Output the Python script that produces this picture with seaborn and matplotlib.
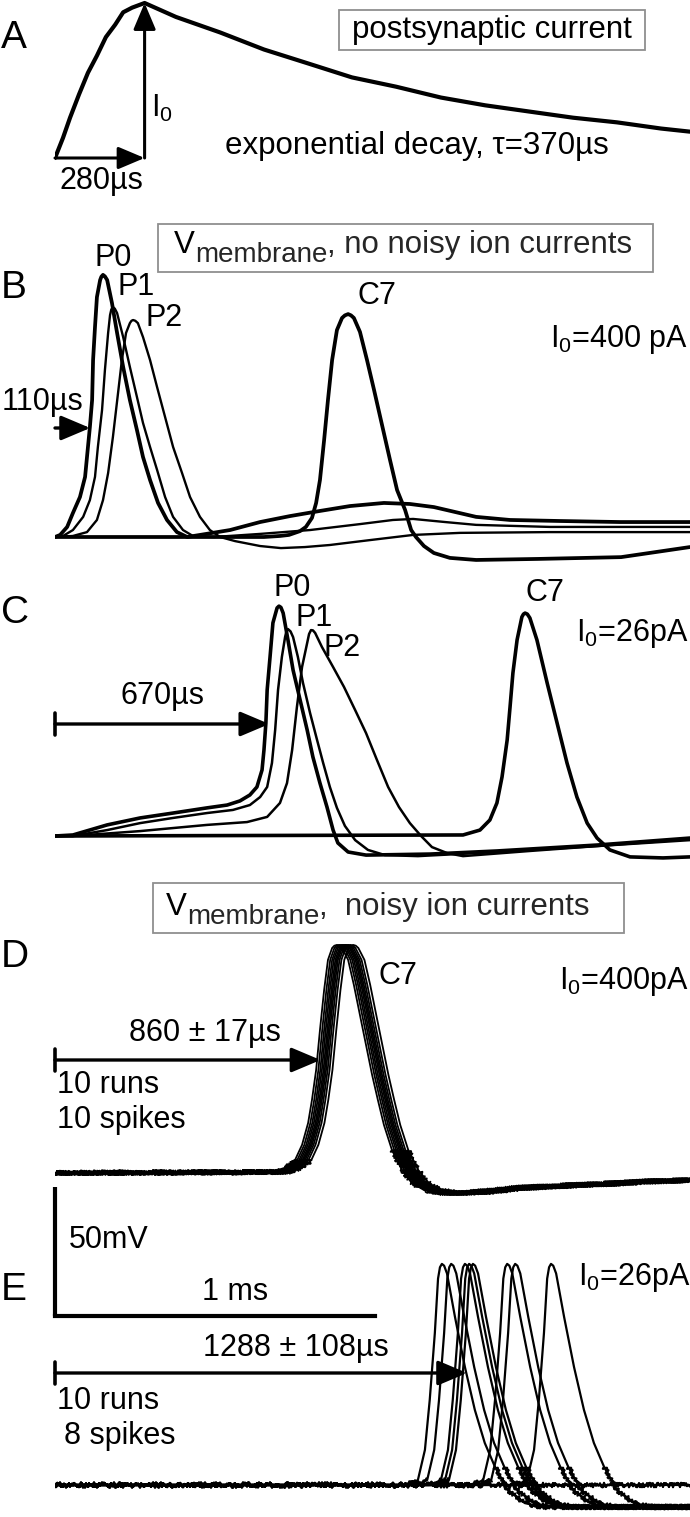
import numpy as np
import pandas as pd
import matplotlib
matplotlib.use("Agg")
import matplotlib.pyplot as plt
from matplotlib.patches import Rectangle
import seaborn as sns

# ------------------------------------------------------------------ data
# Panel A: postsynaptic current, normalised to I0
psc_t_us = [0, 25, 47, 75, 103, 131, 159, 188, 213, 241, 280, 378, 516, 653, 791, 928,
            1066, 1206, 1344, 1481, 1619, 1756, 1894, 1984]
psc_i = [0, 0.13, 0.26, 0.41, 0.55, 0.66, 0.78, 0.86, 0.94, 0.97, 1.0, 0.91, 0.81, 0.70,
         0.61, 0.52, 0.46, 0.39, 0.34, 0.30, 0.26, 0.23, 0.19, 0.17]
psc_rise_us = 280

# Panel B: I0 = 400 pA, no noise (mV relative to rest)
b_p0_t = [0, 16, 38, 56, 78, 94, 103, 109, 116, 119, 125, 131, 141, 145, 150, 156, 163, 178,
          194, 213, 234, 256, 275, 297, 322, 350, 381, 413, 453, 547, 641, 734, 828, 922, 1028,
          1109, 1184, 1250, 1316, 1422, 1578, 1766, 1984]
b_p0_v = [0, 0.8, 3.9, 9.3, 15.5, 23.3, 34.9, 42.6, 53.1, 68.6, 81.4, 93.0, 99.6, 100.9, 101.6,
          101.0, 99.6, 90.7, 79.1, 65.9, 53.1, 41.5, 31.0, 22.1, 13.2, 6.6, 1.9, 0, 0.8, 2.7,
          5.8, 8.1, 10.1, 12.0, 13.2, 12.8, 11.6, 9.7, 7.8, 6.6, 6.2, 5.8, 5.8]
b_p1_t = [0, 25, 56, 88, 109, 125, 134, 147, 156, 166, 172, 176, 181, 187, 194, 213, 234, 256,
          275, 297, 319, 344, 369, 400, 431, 497, 641, 797, 953, 1056, 1119, 1219, 1316, 1547,
          1984]
b_p1_v = [0, 0.4, 2.7, 7.8, 14.3, 23.3, 34.9, 49.2, 64.7, 79.1, 86.0, 88.2, 89.1, 88.5, 86.8,
          77.5, 65.9, 54.3, 44.2, 34.9, 26.0, 15.5, 7.8, 2.7, 0.4, 0, 1.2, 2.7, 5.0, 6.6, 7.0,
          5.8, 4.7, 3.9, 3.9]
b_p2_t = [0, 56, 100, 131, 150, 166, 181, 197, 209, 222, 234, 239, 244, 251, 259, 275, 297,
          319, 344, 369, 397, 422, 453, 484, 516, 563, 641, 706, 781, 859, 984, 1119, 1266,
          1547, 1984]
b_p2_v = [0, 0.4, 1.9, 6.6, 14.3, 24.8, 38.8, 55.8, 68.6, 79.1, 82.9, 83.8, 84.1, 83.8, 82.9,
          77.5, 68.6, 58.1, 46.5, 34.9, 24.8, 15.5, 7.8, 2.7, 0, -1.6, -3.5, -4.3, -3.9, -3.1,
          -1.2, 0.8, 1.6, 1.9, 1.9]
b_c7_t = [0, 653, 703, 731, 766, 784, 803, 816, 828, 841, 853, 866, 881, 897, 906, 916, 925,
          934, 953, 975, 997, 1022, 1047, 1069, 1094, 1113, 1128, 1153, 1184, 1234, 1316, 1509,
          1769, 1984]
b_c7_v = [0, 0, 0.4, 0.8, 2.3, 3.9, 7.4, 13.2, 22.1, 37.6, 53.1, 68.6, 80.2, 84.9, 85.9, 86.4,
          85.9, 84.9, 79.5, 68.6, 57.0, 43.4, 29.8, 18.2, 10.5, 2.7, 0, -3.5, -6.2, -8.1, -8.9,
          -8.5, -7.8, -3.9]
b_latency_us = 110

# Panel C: I0 = 26 pA, no noise
c_p0_t = [0, 56, 163, 266, 369, 475, 538, 578, 609, 631, 647, 653, 659, 663, 672, 681, 694,
          700, 706, 713, 728, 744, 766, 788, 806, 828, 850, 869, 884, 916, 972, 1172, 1381,
          1694, 1984]
c_p0_v = [0, 0.4, 4.3, 7.0, 8.9, 10.9, 12.0, 13.6, 15.9, 19.0, 25.6, 33.3, 43.8, 56.6, 69.4,
          82.6, 88.4, 89.1, 88.6, 86.4, 76.0, 64.3, 52.7, 41.1, 30.6, 20.5, 11.2, 2.3, -2.7,
          -6.2, -7.4, -7.0, -5.8, -3.5, -0.8]
c_p1_t = [0, 56, 163, 266, 369, 475, 556, 609, 641, 663, 678, 688, 697, 709, 719, 723, 728,
          736, 744, 759, 775, 797, 819, 838, 859, 881, 906, 938, 978, 1031, 1134, 1381, 1694,
          1984]
c_p1_v = [0, 0, 2.3, 5.0, 7.0, 8.9, 10.1, 12.0, 15.1, 19.0, 28.3, 41.1, 56.6, 69.4, 77.1,
          79.2, 80.2, 79.3, 77.1, 69.4, 59.3, 47.7, 37.2, 28.3, 19.0, 10.9, 3.9, -1.6, -5.4,
          -7.4, -7.8, -6.2, -3.9, -1.2]
c_p2_t = [0, 56, 266, 475, 600, 663, 703, 725, 741, 756, 772, 788, 794, 800, 806, 813, 834,
          869, 903, 938, 972, 1006, 1041, 1075, 1109, 1144, 1178, 1225, 1275, 1484, 1694, 1984]
c_p2_v = [0, 0, 1.9, 4.3, 5.4, 7.4, 12.8, 20.5, 33.3, 50.0, 65.5, 74.8, 78.3, 79.8, 79.7,
          78.7, 73.3, 65.5, 57.8, 48.8, 39.9, 29.5, 19.0, 11.2, 5.0, 0, -4.3, -6.6, -7.8,
          -5.8, -3.9, -1.6]
c_c7_t = [0, 1275, 1328, 1359, 1381, 1397, 1413, 1422, 1431, 1444, 1459, 1464, 1469, 1476,
          1484, 1506, 1538, 1569, 1600, 1631, 1663, 1694, 1734, 1797, 1900, 1984]
c_c7_v = [0, 0.4, 2.3, 6.2, 12.8, 22.9, 37.2, 50.0, 63.2, 76.0, 84.9, 86.0, 86.4, 86.0, 84.5,
          76.0, 59.3, 43.8, 28.3, 15.1, 5.0, -0.8, -5.4, -8.1, -8.5, -8.1]
c_latency_us = 670

# Panel D: noisy, I0 = 400 pA, C7, 10 runs (median run + per-run shifts)
d_t = [0, 703, 750, 775, 797, 816, 828, 841, 853, 866, 878, 891, 898, 906, 914, 922, 941, 959,
       978, 997, 1016, 1034, 1053, 1078, 1109, 1141, 1178, 1234, 1328, 1453, 1578, 1703, 1828,
       1984]
d_v = [0, 0.4, 2.3, 5.0, 10.9, 19.4, 28.3, 39.9, 55.4, 70.9, 82.6, 87.2, 88.1, 88.4, 88.1,
       87.2, 82.6, 72.9, 61.2, 49.6, 38.0, 28.3, 18.6, 8.9, 1.2, -3.9, -6.6, -7.8, -7.4, -5.8,
       -5.0, -4.3, -3.5, -2.7]
d_run_shift_us = [-25, -18, -12, -7, -2, 2, 6, 11, 17, 26]
d_latency_us, d_sd_us, d_arrow_us = 860, 17, 830

# Panel E: noisy, I0 = 26 pA, 10 runs, 8 spikes (spike shape relative to its peak)
e_rel_t = [-125, -94, -75, -53, -38, -22, -12, -6, 0, 7, 16, 41, 72, 103, 134, 166, 206, 259,
           312]
e_rel_v = [0, 0.8, 1.9, 13.6, 32.9, 58.9, 80.0, 84.4, 85.7, 85.0, 82.0, 65.1, 45.7, 29.1,
           16.3, 7.0, -1.9, -7.0, -8.5]
e_peak_us = [1209, 1238, 1281, 1294, 1306, 1413, 1438, 1550]
e_n_runs = 10
e_latency_us, e_sd_us = 1288, 108

scale_mv, scale_ms = 50, 1

# ------------------------------------------------------------------ style
sns.set_theme(style="white")
plt.rcParams["font.family"] = ["Liberation Sans", "DejaVu Sans"]
plt.rcParams["mathtext.default"] = "regular"

FW, FH = 690, 1517
X0, X1 = 55, 690
US_PER_PX = 3.125
MV_PER_PX = 50 / 129.0
T_MAX = (X1 - X0) * US_PER_PX
NOISE_MV = 9.0  # below this deflection the noisy traces show their baseline noise

fig = plt.figure(figsize=(FW / 100, FH / 100), dpi=100)
fig.patch.set_facecolor("white")


def panel_axes(top, bottom, baseline, unit_per_px):
    ax = fig.add_axes([X0 / FW, 1 - bottom / FH, (X1 - X0) / FW, (bottom - top) / FH])
    ax.set_xlim(0, T_MAX)
    ax.set_ylim((baseline - bottom) * unit_per_px, (baseline - top) * unit_per_px)
    ax.axis("off")
    ax.patch.set_alpha(0)
    return ax


def ftext(x, y, s, **kw):
    kw.setdefault("fontsize", 22)
    kw.setdefault("color", "black")
    return fig.text(x / FW, 1 - y / FH, s, **kw)


def trace(ax, t, v, lw):
    sns.lineplot(x=list(t), y=list(v), ax=ax, color="black", linewidth=lw,
                 estimator=None, sort=False)
    ln = ax.lines[-1]
    ln.set_solid_capstyle("round")
    ln.set_solid_joinstyle("round")
    return ln


def noisy_trace(ax, t, v, lw):
    """Clean trace plus a jittered rendering of its near-baseline stretches."""
    trace(ax, t, v, lw)
    t = np.asarray(t, float)
    v = np.asarray(v, float)
    quiet = np.abs(v) <= NOISE_MV
    i = 0
    n = len(v)
    while i < n:
        if quiet[i]:
            j = i
            while j + 1 < n and quiet[j + 1]:
                j += 1
            if j > i:
                ln = trace(ax, t[i:j + 1], v[i:j + 1], lw)
                ln.set_sketch_params(scale=2.2, length=1.6, randomness=2)
            i = j + 1
        else:
            i += 1


def arrow(ax, t_end, level, bar=True, unit=MV_PER_PX):
    ax.annotate("", xy=(t_end, level), xytext=(0, level),
                arrowprops=dict(arrowstyle="-|>,head_length=0.9,head_width=0.38",
                                lw=2.4, color="black", mutation_scale=20,
                                shrinkA=0, shrinkB=0),
                annotation_clip=False)
    if bar:
        h = 11 * unit
        ax.plot([0, 0], [level - h, level + h], color="black", lw=2.6, clip_on=False)


def box(x0, y0, x1, y1):
    fig.add_artist(Rectangle((x0 / FW, 1 - y1 / FH), (x1 - x0) / FW, (y1 - y0) / FH,
                             transform=fig.transFigure, facecolor="white",
                             edgecolor="#8f8f8f", lw=1.3, zorder=0))


def vm_label(x, base, rest):
    t1 = ftext(x, base, "V", fontsize=22.5, va="baseline")
    fig.canvas.draw()
    r = fig.canvas.get_renderer()
    x2 = t1.get_window_extent(r).x1
    t2 = fig.text(x2 / FW, 1 - (base + 9) / FH, "membrane", fontsize=20, va="baseline")
    fig.canvas.draw()
    x3 = t2.get_window_extent(r).x1
    fig.text(x3 / FW, 1 - base / FH, rest, fontsize=22.5, va="baseline")


LETTER = 28

# ------------------------------------------------------------------ panel A
axA = panel_axes(0, 200, 158, 1 / 155.0)
trace(axA, psc_t_us, psc_i, 3.0)
for start, end in [((0, 0), (psc_rise_us, 0)), ((psc_rise_us, 0), (psc_rise_us, 1.0))]:
    axA.annotate("", xy=end, xytext=start,
                 arrowprops=dict(arrowstyle="-|>,head_length=0.9,head_width=0.38", lw=2.2,
                                 color="black", mutation_scale=18, shrinkA=0, shrinkB=0),
                 annotation_clip=False)
ftext(1, 38, "A", va="center", ha="left", fontsize=LETTER)
box(339, 10, 645, 50)
ftext(492, 30, "postsynaptic current", ha="center", va="center", fontsize=22.5)
ftext(151, 108, "I$_0$", ha="left", va="center")
ftext(417, 146, "exponential decay, \u03c4=370\u00b5s", ha="center", va="center", fontsize=22.5)
ftext(101, 181, "280\u00b5s", ha="center", va="center")

# ------------------------------------------------------------------ panel B
axB = panel_axes(220, 570, 537, MV_PER_PX)
trace(axB, b_p2_t, b_p2_v, 1.7)
trace(axB, b_p1_t, b_p1_v, 1.7)
trace(axB, b_p0_t, b_p0_v, 2.7)
trace(axB, b_c7_t, b_c7_v, 2.7)
arrow(axB, b_latency_us, (537 - 428) * MV_PER_PX, bar=False)
ftext(1, 288, "B", va="center", ha="left", fontsize=LETTER)
box(158, 224, 653, 272)
vm_label(174, 253, ", no noisy ion currents")
ftext(113, 258, "P0", ha="center", va="center")
ftext(136, 287, "P1", ha="center", va="center")
ftext(164, 318, "P2", ha="center", va="center")
ftext(377, 296, "C7", ha="center", va="center")
ftext(688, 340, "I$_0$=400 pA", ha="right", va="center")
ftext(42, 402, "110\u00b5s", ha="center", va="center")

# ------------------------------------------------------------------ panel C
axC = panel_axes(580, 875, 836, MV_PER_PX)
trace(axC, c_p2_t, c_p2_v, 1.8)
trace(axC, c_p1_t, c_p1_v, 1.8)
trace(axC, c_p0_t, c_p0_v, 2.6)
trace(axC, c_c7_t, c_c7_v, 2.6)
arrow(axC, c_latency_us, (836 - 724) * MV_PER_PX)
ftext(1, 613, "C", va="center", ha="left", fontsize=LETTER)
ftext(292, 588, "P0", ha="center", va="center")
ftext(314, 618, "P1", ha="center", va="center")
ftext(342, 648, "P2", ha="center", va="center")
ftext(545, 593, "C7", ha="center", va="center")
ftext(688, 634, "I$_0$=26pA", ha="right", va="center")
ftext(163, 696, "670\u00b5s", ha="center", va="center")

# ------------------------------------------------------------------ panel D
axD = panel_axes(935, 1200, 1173, MV_PER_PX)
for s in d_run_shift_us:
    tt = np.clip(np.array(d_t, float) + s, 0, T_MAX)
    noisy_trace(axD, tt, d_v, 1.3)
arrow(axD, d_arrow_us, (1173 - 1060) * MV_PER_PX)
ftext(1, 957, "D", va="center", ha="left", fontsize=LETTER)
box(153, 883, 624, 933)
vm_label(166, 915, ",  noisy ion currents")
ftext(398, 976, "C7", ha="center", va="center")
ftext(688, 982, "I$_0$=400pA", ha="right", va="center")
ftext(205, 1033, f"{d_latency_us} \u00b1 {d_sd_us}\u00b5s", ha="center", va="center")
ftext(57, 1085, f"{len(d_run_shift_us)} runs", ha="left", va="center")
ftext(57, 1120, f"{len(d_run_shift_us)} spikes", ha="left", va="center")

# ------------------------------------------------------------------ panel E
axE = panel_axes(1180, 1517, 1485, MV_PER_PX)
for _ in range(e_n_runs - len(e_peak_us)):
    noisy_trace(axE, [0, T_MAX], [0, 0], 1.5)
for pk in e_peak_us:
    tt = [0] + [pk + r for r in e_rel_t] + [T_MAX]
    vv = [0] + e_rel_v + [e_rel_v[-1]]
    noisy_trace(axE, tt, vv, 1.6)
arrow(axE, e_latency_us, (1485 - 1373) * MV_PER_PX)
# scale bars
bar_base = (1485 - 1316) * MV_PER_PX
axE.plot([0, 0], [bar_base, bar_base + scale_mv], color="black", lw=3.0,
         clip_on=False, solid_capstyle="butt")
axE.plot([0, scale_ms * 1000], [bar_base, bar_base], color="black", lw=3.0,
         clip_on=False, solid_capstyle="projecting")
ftext(1, 1290, "E", va="center", ha="left", fontsize=LETTER)
ftext(69, 1240, f"{scale_mv}mV", ha="left", va="center")
ftext(235, 1292, f"{scale_ms} ms", ha="center", va="center")
ftext(690, 1278, "I$_0$=26pA", ha="right", va="center")
ftext(296, 1348, f"{e_latency_us} \u00b1 {e_sd_us}\u00b5s", ha="center", va="center")
ftext(57, 1401, f"{e_n_runs} runs", ha="left", va="center")
ftext(64, 1436, f"{len(e_peak_us)} spikes", ha="left", va="center")

fig.savefig("out.png", dpi=100, facecolor="white")
